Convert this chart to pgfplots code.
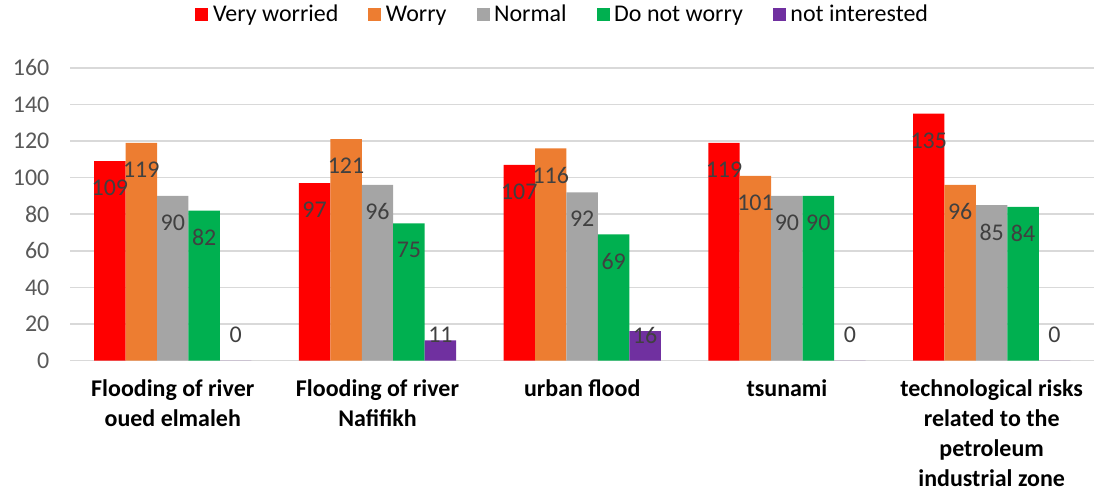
\documentclass[border=0pt]{standalone}
\usepackage{pgfplots}
\pgfplotsset{compat=1.18}
\usepackage{fontspec}
\setmainfont{Carlito}
\definecolor{cRed}{HTML}{FF0000}
\definecolor{cOrange}{HTML}{ED7D31}
\definecolor{cGray}{HTML}{A5A5A5}
\definecolor{cGreen}{HTML}{00B050}
\definecolor{cPurple}{HTML}{7030A0}
\definecolor{gridc}{HTML}{D9D9D9}
\definecolor{ticktext}{HTML}{595959}
\definecolor{labtext}{HTML}{404040}
\begin{document}
\begin{tikzpicture}
\path[use as bounding box] (-35.25pt,-65pt) rectangle (512.5pt,180.5pt);
\begin{axis}[
  scale only axis,
  width=512.5pt, height=146.5pt,
  ybar=0pt, bar width=15.75pt,
  xmin=-0.5, xmax=4.5, ymin=0, ymax=160,
  ytick={0,20,...,160},
  xtick={0,1,2,3,4},
  xticklabels={{Flooding of river\\oued elmaleh},{Flooding of river\\Nafifikh},{urban flood},{tsunami},{technological risks\\related to the\\petroleum\\industrial zone}},
  xticklabel style={font=\fontsize{12}{15}\selectfont\bfseries, align=center, anchor=north, yshift=-6pt},
  yticklabel style={font=\fontsize{12}{14}\selectfont, text=ticktext, xshift=-7pt},
  /pgf/number format/assume math mode=true,
  major tick length=0pt,
  xmajorgrids=false, ymajorgrids=true,
  grid style={draw=gridc, line width=0.75pt},
  axis x line*=bottom, axis y line*=left,
  x axis line style={draw=gridc, line width=0.75pt, -},
  y axis line style={draw=none},
  ytick style={draw=none}, xtick style={draw=none},
  legend style={at={(0.482,1.181)}, anchor=center, draw=none, legend columns=5,
    font=\fontsize{12}{14}\selectfont, /tikz/every even column/.append style={column sep=13pt},
    /tikz/every odd column/.append style={column sep=0.3pt}},
  legend image code/.code={\fill[#1] (0pt,-3.25pt) rectangle (6.5pt,3.25pt);},
  visualization depends on={rawy \as \rawy},
  nodes near coords,
  every node near coord/.append style={font=\fontsize{12}{14}\selectfont, text=labtext, anchor=center,
    yshift={max(-13.5, 12.75 - \rawy*0.9156)*1pt}},
]
\addplot[fill=cRed, draw=none] coordinates {(0,109) (1,97) (2,107) (3,119) (4,135)};
\addplot[fill=cOrange, draw=none] coordinates {(0,119) (1,121) (2,116) (3,101) (4,96)};
\addplot[fill=cGray, draw=none] coordinates {(0,90) (1,96) (2,92) (3,90) (4,85)};
\addplot[fill=cGreen, draw=none] coordinates {(0,82) (1,75) (2,69) (3,90) (4,84)};
\addplot[fill=cPurple, draw=none] coordinates {(0,0) (1,11) (2,16) (3,0) (4,0)};
\legend{Very worried, Worry, Normal, Do not worry, not interested}
\end{axis}
\end{tikzpicture}
\end{document}
